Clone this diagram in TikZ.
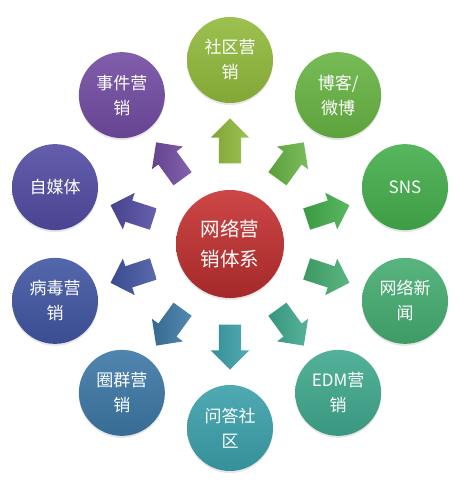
\documentclass[tikz,border=0pt]{standalone}
\usepackage{fontspec}
\newfontfamily\cjk{Noto Sans CJK SC}
\usetikzlibrary{calc,shapes.arrows,shadows}

\definecolor{hubred}{RGB}{200,50,50}
\definecolor{shequ}{RGB}{145,186,60}
\definecolor{boke}{RGB}{104,180,68}
\definecolor{sns}{RGB}{68,174,76}
\definecolor{xinwen}{RGB}{70,172,112}
\definecolor{edm}{RGB}{64,168,142}
\definecolor{wenda}{RGB}{60,160,170}
\definecolor{quanqun}{RGB}{60,120,165}
\definecolor{bingdu}{RGB}{66,86,162}
\definecolor{zimeiti}{RGB}{82,76,162}
\definecolor{shijian}{RGB}{114,76,162}

\begin{document}
\begin{tikzpicture}[x=1pt, y=1pt,
	every node/.style={font=\cjk, text=white, align=center, inner sep=0pt},
	topic/.style={circle, minimum size=86pt, top color=#1!90!white, bottom color=#1!90!black,
		drop shadow={opacity=0.2, shadow xshift=0pt, shadow yshift=-2pt},
		font=\cjk\fontsize{17}{25}\selectfont},
	hub/.style={circle, minimum size=108pt, top color=#1!90!white, bottom color=#1!82!black,
		drop shadow={opacity=0.2, shadow xshift=0pt, shadow yshift=-2pt},
		font=\cjk\fontsize{19.5}{30}\selectfont},
	blockarrow/.style={single arrow, minimum height=45pt, inner xsep=0pt, inner ysep=11pt,
		single arrow head extend=8pt, single arrow tip angle=90, single arrow head indent=0pt,
		left color=#1!88!black, right color=#1!88!white}]

	\useasboundingbox (0,0) rectangle (458,497);

	\node [hub=hubred] (C) at (230,253) {网络营\\销体系};

	\node [topic=shequ] (SQ) at ($(C)+(90:184)$) {社区营\\销};
	\node [topic=boke] (BK) at ($(C)+(54:184)$) {博客/\\微博};
	\node [topic=sns] (SN) at ($(C)+(18:184)$) {SNS};
	\node [topic=xinwen] (XW) at ($(C)+(-18:184)$) {网络新\\闻};
	\node [topic=edm] (ED) at ($(C)+(-54:184)$) {EDM营\\销};
	\node [topic=wenda] (WD) at ($(C)+(-90:184)$) {问答社\\区};
	\node [topic=quanqun] (QQ) at ($(C)+(-126:184)$) {圈群营\\销};
	\node [topic=bingdu] (BD) at ($(C)+(-162:184)$) {病毒营\\销};
	\node [topic=zimeiti] (ZM) at ($(C)+(162:184)$) {自媒体};
	\node [topic=shijian] (SJ) at ($(C)+(126:184)$) {事件营\\销};

	\node [blockarrow=shequ, rotate=90] (aSQ) at ($(C)!0.53!(SQ)$) {};
	\node [blockarrow=boke, rotate=54] (aBK) at ($(C)!0.53!(BK)$) {};
	\node [blockarrow=sns, rotate=18] (aSN) at ($(C)!0.53!(SN)$) {};
	\node [blockarrow=xinwen, rotate=-18] (aXW) at ($(C)!0.53!(XW)$) {};
	\node [blockarrow=edm, rotate=-54] (aED) at ($(C)!0.53!(ED)$) {};
	\node [blockarrow=wenda, rotate=-90] (aWD) at ($(C)!0.53!(WD)$) {};
	\node [blockarrow=quanqun, rotate=-126] (aQQ) at ($(C)!0.53!(QQ)$) {};
	\node [blockarrow=bingdu, rotate=-162] (aBD) at ($(C)!0.53!(BD)$) {};
	\node [blockarrow=zimeiti, rotate=162] (aZM) at ($(C)!0.53!(ZM)$) {};
	\node [blockarrow=shijian, rotate=126] (aSJ) at ($(C)!0.53!(SJ)$) {};

\end{tikzpicture}
\end{document}
